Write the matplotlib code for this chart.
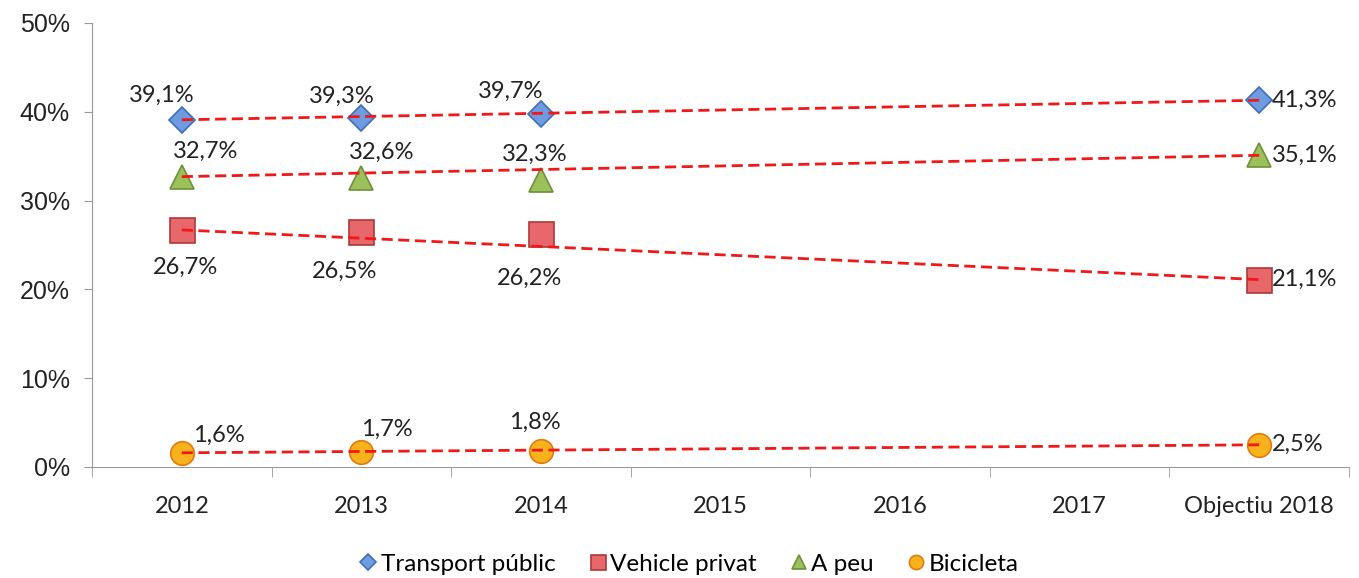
import numpy as np
import matplotlib
matplotlib.use("Agg")
import matplotlib.pyplot as plt
from matplotlib.ticker import FixedLocator, FuncFormatter

categories = ["2012", "2013", "2014", "2015", "2016", "2017", "Objectiu 2018"]

transport = [39.1, 39.3, 39.7, np.nan, np.nan, np.nan, 41.3]
vehicle = [26.7, 26.5, 26.2, np.nan, np.nan, np.nan, 21.1]
a_peu = [32.7, 32.6, 32.3, np.nan, np.nan, np.nan, 35.1]
bicicleta = [1.6, 1.7, 1.8, np.nan, np.nan, np.nan, 2.5]

series_names = ["Transport públic", "Vehicle privat", "A peu", "Bicicleta"]

fig = plt.figure(figsize=(13.59, 5.78), dpi=100)
ax = fig.add_axes([92 / 1359, 111 / 578, 1257 / 1359, 444 / 578])

x = np.arange(len(categories))

styles = [
    (transport, "D", 13, "#6f9be0", "#3f6fb8"),
    (vehicle, "s", 18, "#e8676a", "#a83a3a"),
    (a_peu, "^", 17, "#9dc15a", "#6f8f3a"),
    (bicicleta, "o", 17, "#f7b21c", "#e07b10"),
]

# label offsets in pixels (dx, dy, ha) for each point
offsets = {
    0: [(-20, 24, "center"), (-20, 22, "center"), (-30, 23, "center"), (13, 0, "left")],
    1: [(4, -37, "center"), (-17, -40, "center"), (-11, -44, "center"), (13, 0, "left")],
    2: [(24, 25, "center"), (20, 25, "center"), (-6, 26, "center"), (13, 0, "left")],
    3: [(37, 17, "center"), (25, 23, "center"), (-6, 29, "center"), (13, 0, "left")],
}

for i, (vals, mk, ms, fc, ec) in enumerate(styles):
    vals = np.array(vals)
    ok = ~np.isnan(vals)
    ax.plot(x[ok], vals[ok], linestyle="none", marker=mk, markersize=ms,
            markerfacecolor=fc, markeredgecolor=ec, markeredgewidth=1.2,
            zorder=3, label=series_names[i], clip_on=False)
    # dashed line from first to last value
    ax.plot([x[0], x[-1]], [vals[0], vals[-1]], color="#f01818",
            linestyle=(0, (4, 2)), linewidth=2, zorder=4)
    for j, (xi, v) in enumerate(zip(x[ok], vals[ok])):
        dx, dy, ha = offsets[i][j]
        ax.annotate(f"{v:.1f}%".replace(".", ","), (xi, v),
                    xytext=(dx, dy), textcoords="offset pixels",
                    ha=ha, va="center", fontsize=17, family="Lato",
                    color="#222222", zorder=5)

ax.set_xlim(-0.5, len(categories) - 0.5)
ax.set_ylim(0, 50)

ax.set_xticks(x)
ax.set_xticklabels(categories, family="Lato", fontsize=17, color="#222222")
ax.xaxis.set_minor_locator(FixedLocator(np.arange(-0.5, len(categories), 1)))
ax.tick_params(axis="x", which="major", length=0, pad=21)
ax.tick_params(axis="x", which="minor", length=7, color="#999999", direction="out")

ax.set_yticks(np.arange(0, 51, 10))
ax.yaxis.set_major_formatter(FuncFormatter(lambda v, p: f"{int(v)}%"))
ax.tick_params(axis="y", length=6, color="#999999", pad=10)
for t in ax.get_yticklabels():
    t.set_family("Liberation Sans")
    t.set_fontsize(18)
    t.set_color("#222222")

for s in ["top", "right"]:
    ax.spines[s].set_visible(False)
ax.spines["left"].set_color("#999999")
ax.spines["bottom"].set_color("#999999")

leg = fig.legend(loc="center", bbox_to_anchor=(688 / 1359, 1 - 564 / 578), ncol=4,
                 frameon=False, prop={"family": "Lato", "size": 17.5},
                 handletextpad=0.05, columnspacing=1.3, markerscale=0.6,
                 handlelength=0.9)

fig.savefig("out.png", dpi=100, facecolor="white")
